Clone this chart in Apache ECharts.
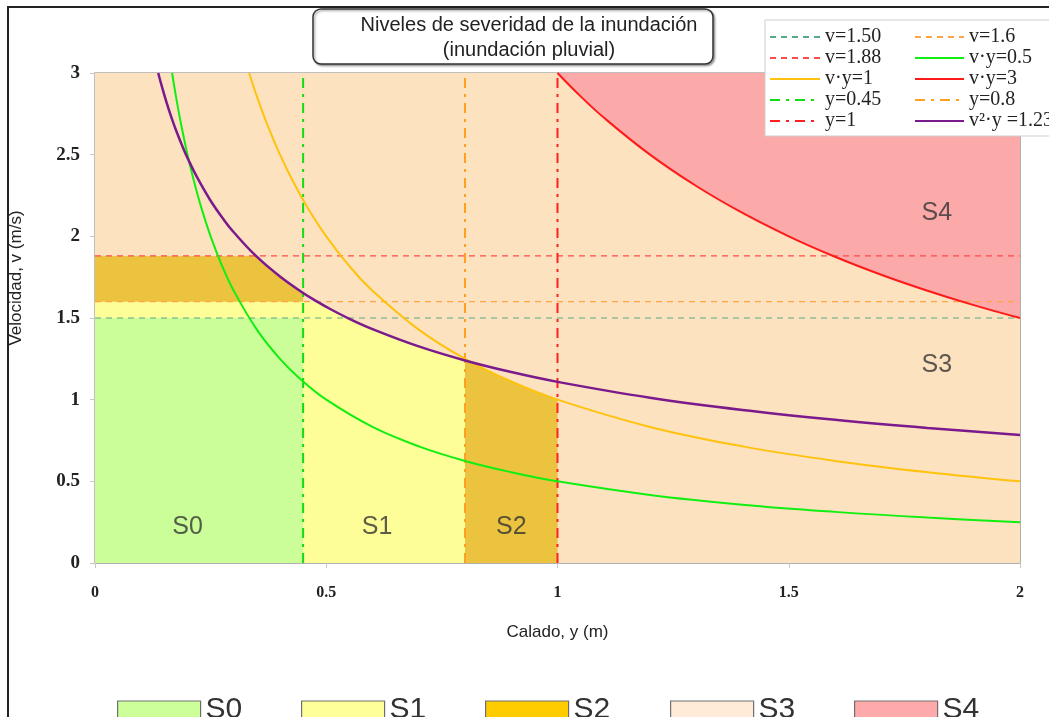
<!DOCTYPE html>
<html>
<head>
<meta charset="utf-8">
<script src="https://cdn.jsdelivr.net/npm/echarts@6/dist/echarts.min.js"></script>
<style>
html,body{margin:0;padding:0;background:#fff;}
#chart{width:1049px;height:717px;}
</style>
</head>
<body>
<div id="chart"></div>
<script>
// ---- data ----
var xTicks = [0, 0.5, 1, 1.5, 2];
var yTicks = [0, 0.5, 1, 1.5, 2, 2.5, 3];
var hLineValues = [1.50, 1.6, 1.88];          // v = const
var vLineValues = [0.45, 0.8, 1];             // y = const
// v·y = 0.5
var depthVY05 = [0.1667,0.175,0.185,0.2,0.215,0.23,0.25,0.275,0.3,0.35,0.4,0.45,0.5,0.6,0.7,0.8,0.9,1.0,1.2,1.4,1.6,1.8,2.0];
var velVY05   = [3.0,2.857,2.703,2.5,2.326,2.174,2.0,1.818,1.667,1.429,1.25,1.111,1.0,0.833,0.714,0.625,0.556,0.5,0.417,0.357,0.313,0.278,0.25];
// v·y = 1
var depthVY1 = [0.3333,0.35,0.37,0.4,0.43,0.46,0.5,0.55,0.6,0.7,0.8,0.9,1.0,1.2,1.4,1.6,1.8,2.0];
var velVY1   = [3.0,2.857,2.703,2.5,2.326,2.174,2.0,1.818,1.667,1.429,1.25,1.111,1.0,0.833,0.714,0.625,0.556,0.5];
// v·y = 3
var depthVY3 = [1.0,1.05,1.1,1.2,1.3,1.4,1.5,1.6,1.7,1.8,1.9,2.0];
var velVY3   = [3.0,2.857,2.727,2.5,2.308,2.143,2.0,1.875,1.765,1.667,1.579,1.5];
// v²·y = 1.23
var depthV2Y = [0.1367,0.145,0.155,0.165,0.175,0.19,0.2,0.22,0.25,0.28,0.3,0.348,0.4,0.45,0.4805,0.5,0.55,0.6,0.7,0.8,0.9,1.0,1.2,1.4,1.6,1.8,2.0];
var velV2Y   = [3.0,2.913,2.817,2.730,2.651,2.544,2.480,2.365,2.218,2.096,2.025,1.880,1.754,1.653,1.600,1.568,1.495,1.432,1.326,1.240,1.169,1.109,1.012,0.937,0.877,0.827,0.784];
// zone labels
var zoneNames = ['S0','S1','S2','S3','S4'];
var zoneLabelX = [0.2, 0.61, 0.9, 1.82, 1.82];
var zoneLabelV = [0.22, 0.22, 0.22, 1.21, 2.14];

function zip(a, b) { return a.map(function (x, i) { return [x, b[i]]; }); }
function inRange(pts, lo, hi) { return pts.filter(function (p) { return p[0] >= lo && p[0] <= hi; }); }

var cVY05 = zip(depthVY05, velVY05);
var cVY1 = zip(depthVY1, velVY1);
var cVY3 = zip(depthVY3, velVY3);
var cV2Y = zip(depthV2Y, velV2Y);
var xMax = xTicks[xTicks.length - 1], yMax = yTicks[yTicks.length - 1];

var C = {
  S0: '#cbfd98', S1: '#fefe98', S2: '#ebc33f', S3: '#fde2bf', S4: '#fba9a9'
};

function area(name, data, color, smooth) {
  return { name: name, type: 'line', data: data, symbol: 'none', silent: true, z: 1,
    smooth: smooth ? 0.4 : false,
    lineStyle: { width: 0, color: color }, itemStyle: { color: color },
    areaStyle: { color: color, opacity: 1 }, emphasis: { disabled: true } };
}
function line(name, data, color, width, type, smooth) {
  return { name: name, type: 'line', data: data, symbol: 'none', silent: true, z: 3,
    smooth: smooth ? 0.4 : false,
    lineStyle: { width: width, color: color, type: type }, itemStyle: { color: color },
    emphasis: { disabled: true } };
}
var dashDot = [10, 6, 3, 6];
var dash = [6, 5];

var series = [
  area('S3', [[0, yMax], [xMax, yMax]], C.S3),
  area('S4', [[vLineValues[2], yMax], [xMax, yMax]], C.S4),
  area('S3', cVY3, C.S3, true),
  area('S2', [[0, hLineValues[2]]].concat(inRange(cV2Y, 0.348, vLineValues[0])), C.S2),
  area('S2', inRange(cVY1, vLineValues[1], vLineValues[2]), C.S2, true),
  area('S1', [[0, hLineValues[1]]].concat(inRange(cV2Y, 0.4805, vLineValues[1])), C.S1),
  area('S0', [[0, hLineValues[0]], [vLineValues[0], hLineValues[0]]], C.S0),

  line('v=1.50', [[0, hLineValues[0]], [xMax, hLineValues[0]]], '#5aa886', 1.2, dash),
  line('v=1.6', [[0, hLineValues[1]], [xMax, hLineValues[1]]], '#ffa545', 1.2, dash),
  line('v=1.88', [[0, hLineValues[2]], [xMax, hLineValues[2]]], '#ff4a4a', 1.2, dash),
  line('y=0.45', [[vLineValues[0], 0], [vLineValues[0], yMax]], '#11dd11', 2, dashDot),
  line('y=0.8', [[vLineValues[1], 0], [vLineValues[1], yMax]], '#ffa020', 2, dashDot),
  line('y=1', [[vLineValues[2], 0], [vLineValues[2], yMax]], '#ff2020', 2, dashDot),
  line('v·y=0.5', cVY05, '#11ee11', 2, 'solid', true),
  line('v·y=1', cVY1, '#ffc20e', 2, 'solid', true),
  line('v·y=3', cVY3, '#ff1a1a', 2, 'solid', true),
  line('v²·y =1.23', cV2Y, '#7a1a8c', 2.5, 'solid', true),
  { type: 'scatter', silent: true, z: 5, symbolSize: 0,
    data: zoneNames.map(function (n, i) { return { name: n, value: [zoneLabelX[i], zoneLabelV[i]] }; }),
    label: { show: true, position: 'inside', formatter: '{b}', fontFamily: 'Liberation Sans', fontSize: 25, color: '#333' } }
];

var legendFont = { fontFamily: 'Liberation Serif', fontSize: 20, color: '#222', lineHeight: 20 };
var bottomLeft = [117, 301, 485, 670, 854];
var swatch = { S0: '#ccff99', S1: '#ffff99', S2: '#ffcc00', S3: '#ffebd7', S4: '#ffaaaa' };
var noSymbol = { color: 'rgba(0,0,0,0)', borderColor: 'rgba(0,0,0,0)', borderWidth: 0 };

var legends = [
  { orient: 'vertical', left: 764, top: 22, itemWidth: 50, itemHeight: 14, itemGap: 1, z: 6,
    textStyle: legendFont, selectedMode: false, itemStyle: noSymbol,
    data: ['v=1.50', 'v=1.88', 'v·y=1', 'y=0.45', 'y=1'] },
  { orient: 'vertical', left: 909, top: 22, itemWidth: 49, itemHeight: 14, itemGap: 1, z: 6,
    textStyle: legendFont, selectedMode: false, itemStyle: noSymbol,
    data: ['v=1.6', 'v·y=0.5', 'v·y=3', 'y=0.8', 'v²·y =1.23'] }
].concat(zoneNames.map(function (n, i) {
  return { left: bottomLeft[i], top: 695, itemWidth: 83, itemHeight: 18, selectedMode: false, padding: 0,
    textStyle: { fontFamily: 'Liberation Sans', fontSize: 30, color: '#333' },
    data: [{ name: n, icon: 'rect', itemStyle: { color: swatch[n], borderColor: '#707070', borderWidth: 1.2 } }] };
}));

var option = {
  animation: false,
  backgroundColor: '#fff',
  grid: { left: 95, right: 29, top: 73, bottom: 154, show: true, borderColor: '#a9a9a9', borderWidth: 1.5, backgroundColor: 'transparent' },
  xAxis: { type: 'value', min: xTicks[0], max: xMax, interval: 0.5,
    name: 'Calado, y (m)', nameLocation: 'middle', nameGap: 61,
    nameTextStyle: { fontFamily: 'Liberation Sans', fontSize: 17, color: '#222' },
    axisLine: { show: false }, axisTick: { show: true, length: 5, lineStyle: { color: '#c8c8c8' } },
    axisLabel: { margin: 22, fontFamily: 'Liberation Serif', fontWeight: 'bold', fontSize: 16, color: '#222' },
    splitLine: { show: true, lineStyle: { color: 'rgba(0,0,0,0.07)' } } },
  yAxis: { type: 'value', min: yTicks[0], max: yMax, interval: 0.5,
    name: 'Velocidad, v (m/s)', nameLocation: 'middle', nameGap: 70,
    nameTextStyle: { fontFamily: 'Liberation Sans', fontSize: 17, color: '#222', padding: [0, 0, 0, 80] },
    axisLine: { show: false }, axisTick: { show: true, length: 5, lineStyle: { color: '#c8c8c8' } },
    axisLabel: { margin: 15, fontFamily: 'Liberation Serif', fontWeight: 'bold', fontSize: 19, color: '#222' },
    splitLine: { show: true, lineStyle: { color: 'rgba(0,0,0,0.07)' } } },
  legend: legends,
  graphic: [
    { type: 'rect', z: 0, silent: true, shape: { x: 8, y: 7, width: 1100, height: 800 }, style: { fill: 'none', stroke: '#222', lineWidth: 2 } },
    { type: 'rect', z: 5, silent: true, shape: { x: 765, y: 20, width: 300, height: 116 }, style: { fill: '#fff', stroke: '#cfcfcf', lineWidth: 1 } },
    { type: 'rect', z: 5, silent: true, shape: { x: 313, y: 9, width: 400, height: 55, r: 8 },
      style: { fill: '#fff', stroke: '#333', lineWidth: 1.5, shadowBlur: 2, shadowOffsetX: 1.5, shadowOffsetY: 1.5, shadowColor: 'rgba(0,0,0,0.35)' } },
    { type: 'text', z: 6, silent: true, x: 529, y: 25, style: { text: 'Niveles de severidad de la inundación', align: 'center', verticalAlign: 'middle', font: '20px "Liberation Sans"', fill: '#222' } },
    { type: 'text', z: 6, silent: true, x: 529, y: 50, style: { text: '(inundación pluvial)', align: 'center', verticalAlign: 'middle', font: '20px "Liberation Sans"', fill: '#222' } }
  ],
  series: series
};

var chart = echarts.init(document.getElementById('chart'));
chart.setOption(option);
</script>
</body>
</html>
